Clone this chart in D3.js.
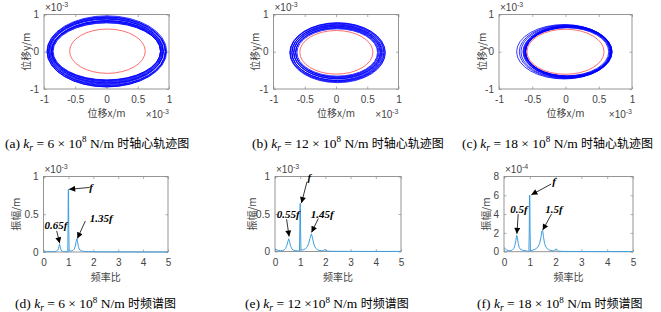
<!DOCTYPE html>
<html><head><meta charset="utf-8">
<script src="https://cdn.jsdelivr.net/npm/d3@7"></script>
<style>body{margin:0;background:#fff}svg{display:block}</style>
</head><body><svg id="c" width="661" height="312"></svg>
<script>
// ---------------- DATA ----------------
// orbit ellipses: [cx, cy, rx, ry] in units of 1e-3 m
const orbitBlueA = [[0.005,0.01,0.958,0.955],[0.0,0.0,0.95,0.94],[0.0,0.005,0.945,0.93],[0.01,0.01,0.935,0.915],[0.005,0.0,0.93,0.905],[-0.01,0.005,0.92,0.885],[0.0,0.01,0.912,0.872],[0.0,0.015,0.905,0.86],[0.01,0.0,0.895,0.84],[0.0,0.005,0.89,0.83],[0.005,0.01,0.88,0.815],[0.0,0.01,0.875,0.8],[-0.005,0.015,0.87,0.79],[0.0,0.01,0.865,0.775],[0.005,0.01,0.86,0.765]];
const orbitRedA  = [[0.015,0.015,0.605,0.595]];
const orbitBlueB = [[0.025,-0.025,0.765,0.805],[0.025,-0.02,0.758,0.792],[0.02,-0.02,0.75,0.78],[0.03,-0.02,0.735,0.76],[0.02,-0.025,0.728,0.75],[0.015,-0.025,0.72,0.74],[0.025,-0.015,0.705,0.715],[0.02,-0.02,0.698,0.705],[0.02,-0.02,0.69,0.695],[0.03,-0.02,0.675,0.675],[0.02,-0.02,0.668,0.665],[0.015,-0.02,0.66,0.655],[0.02,-0.02,0.645,0.635]];
const orbitRedB  = [[0.005,-0.015,0.585,0.585]];
const orbitBlueC = [[-0.02,0.0,0.715,0.73],[-0.005,0.0,0.69,0.72],[0.01,0.0,0.68,0.71],[0.03,0.0,0.67,0.70],[0.035,0.0,0.665,0.695],[0.03,0.0,0.655,0.69],[0.04,0.0,0.65,0.685],[0.035,0.0,0.645,0.675],[0.04,0.0,0.64,0.668],[0.03,0.0,0.635,0.66],[0.035,0.0,0.632,0.652],[0.02,0.0,0.63,0.645]];
const orbitRedC  = [[0.0,0.0,0.58,0.605]];

// spectra: [frequency ratio, amplitude]
const specD = [[0,0.012],[0.03,0.006],[0.08,0.01],[0.12,0.004],[0.18,0.008],[0.25,0.005],[0.32,0.007],[0.4,0.004],[0.47,0.008],[0.52,0.012],[0.57,0.025],[0.6,0.045],[0.62,0.075],[0.645,0.105],[0.67,0.07],[0.7,0.03],[0.74,0.012],[0.8,0.006],[0.88,0.004],[0.95,0.003],[0.975,0.002],[0.985,0.3],[0.995,0.83],[1.005,0.83],[1.015,0.3],[1.03,0.015],[1.1,0.012],[1.18,0.02],[1.24,0.04],[1.28,0.08],[1.31,0.14],[1.34,0.175],[1.37,0.13],[1.4,0.07],[1.45,0.03],[1.52,0.015],[1.6,0.01],[1.7,0.006],[1.8,0.004],[1.95,0.006],[2.05,0.003],[2.4,0.002],[3,0.002],[4,0.001],[5,0.001]];
const specE = [[0,0.035],[0.03,0.03],[0.08,0.02],[0.15,0.012],[0.22,0.01],[0.3,0.012],[0.36,0.02],[0.42,0.04],[0.47,0.08],[0.51,0.13],[0.545,0.17],[0.58,0.13],[0.62,0.07],[0.67,0.035],[0.72,0.02],[0.8,0.012],[0.88,0.008],[0.94,0.005],[0.97,0.001],[0.985,0.3],[0.995,0.64],[1.005,0.64],[1.015,0.3],[1.03,0.02],[1.1,0.02],[1.2,0.035],[1.28,0.06],[1.34,0.11],[1.4,0.19],[1.445,0.235],[1.49,0.18],[1.54,0.1],[1.6,0.05],[1.68,0.025],[1.78,0.012],[1.88,0.01],[1.95,0.02],[1.98,0.025],[2.02,0.018],[2.08,0.006],[2.2,0.003],[2.6,0.002],[3.5,0.001],[5,0.001]];
const specF = [[0,0.45],[0.03,0.38],[0.07,0.25],[0.12,0.15],[0.2,0.1],[0.27,0.12],[0.33,0.2],[0.38,0.35],[0.42,0.65],[0.46,1.2],[0.49,1.75],[0.52,1.5],[0.55,0.9],[0.59,0.45],[0.64,0.25],[0.72,0.15],[0.82,0.1],[0.92,0.06],[0.965,0.02],[0.98,2.5],[0.99,6.0],[1.0,6.0],[1.01,2.5],[1.025,0.1],[1.1,0.15],[1.2,0.25],[1.3,0.45],[1.38,0.85],[1.43,1.5],[1.47,2.2],[1.5,2.25],[1.53,1.6],[1.57,0.9],[1.63,0.45],[1.72,0.22],[1.82,0.12],[1.92,0.1],[1.98,0.2],[2.02,0.3],[2.06,0.2],[2.12,0.06],[2.3,0.03],[2.8,0.02],[3.5,0.015],[5,0.01]];

// annotations: [label, textX, textY, fromX, fromY, toX, toY] (data units)
const annD = [["f",1.91,0.86,1.85,0.855,1.03,0.83],["0.65f",0.5,0.36,0.53,0.28,0.65,0.115],["1.35f",2.32,0.45,1.68,0.41,1.36,0.18]];
const annE = [["f",1.36,0.99,1.27,0.93,1.05,0.645],["0.55f",0.52,0.5,0.46,0.43,0.56,0.2],["1.45f",1.87,0.5,1.72,0.44,1.45,0.255]];
const annF = [["f",1.94,7.5,1.83,7.2,1.06,6.05],["0.5f",0.58,4.5,0.55,4.0,0.5,1.9],["1.5f",1.94,4.5,1.84,4.0,1.5,2.3]];

// tick labels
const orbitTicksX = [-1,-0.5,0,0.5,1];
const orbitTicksY = [-1,0,1];
const specTicksX = [0,1,2,3,4,5];
const specTicksY13 = [0,0.5,1];
const specTicksY4 = [0,2,4,6,8];

// captions: [label, value text, caption cn]
const captions = [
  ["(a) ","6 × 10","时轴心轨迹图"],
  ["(b) ","12 × 10","时轴心轨迹图"],
  ["(c) ","18 × 10","时轴心轨迹图"],
  ["(d) ","6 × 10","时频谱图"],
  ["(e) ","12 ×10","时频谱图"],
  ["(f) ","18 × 10","时频谱图"]
];

// ---------------- DRAW ----------------
const svg = d3.select("#c");
svg.append("rect").attr("width",661).attr("height",312).attr("fill","#fff");
svg.append("defs").append("marker").attr("id","ah").attr("viewBox","0 0 10 10")
  .attr("refX",10).attr("refY",5).attr("markerWidth",7).attr("markerHeight",6)
  .attr("markerUnits","userSpaceOnUse").attr("orient","auto")
  .append("path").attr("d","M0,0L10,5L0,10z").attr("fill","#000");

const SANS = "Liberation Sans, Arial, sans-serif";
const SERIF = "Liberation Serif, Times New Roman, DejaVu Serif, serif";
const CJK = "Noto Sans CJK SC, sans-serif";
const TXT = "#444";

function expLabel(g, x, y, anchor, exp){
  const t = g.append("text").attr("x",x).attr("y",y).attr("text-anchor",anchor)
    .style("font-family",SANS).attr("font-size",10).attr("fill",TXT);
  t.append("tspan").text("×10");
  t.append("tspan").attr("dy",-4).attr("font-size",7).text(exp);
}

function axesBox(p){
  const x = d3.scaleLinear().domain(p.xd).range([p.l,p.r]);
  const y = d3.scaleLinear().domain(p.yd).range([p.b,p.t]);
  const g = svg.append("g");
  const fmt = d => d3.format("")(d).replace("−","-");
  g.append("g").attr("transform",`translate(0,${p.b})`)
    .call(d3.axisBottom(x).tickValues(p.xt).tickSize(-2.5).tickPadding(p.xpad).tickFormat(fmt));
  g.append("g").attr("transform",`translate(${p.l},0)`)
    .call(d3.axisLeft(y).tickValues(p.yt).tickSize(-2.5).tickPadding(5).tickFormat(fmt));
  g.append("g").attr("transform",`translate(0,${p.t})`)
    .call(d3.axisTop(x).tickValues(p.xt).tickSize(-2.5).tickFormat(""));
  g.append("g").attr("transform",`translate(${p.r},0)`)
    .call(d3.axisRight(y).tickValues(p.yt).tickSize(-2.5).tickFormat(""));
  g.selectAll(".domain").remove();
  g.selectAll(".tick line").attr("stroke","#777").attr("stroke-width",0.6);
  g.selectAll(".tick text").style("font-family",SANS).attr("font-size",10).attr("fill",TXT);
  g.append("rect").attr("x",p.l).attr("y",p.t).attr("width",p.r-p.l).attr("height",p.b-p.t)
    .attr("fill","none").attr("stroke","#8a8a8a").attr("stroke-width",0.9);
  g.append("text").attr("x",(p.l+p.r)/2).attr("y",p.xly).attr("text-anchor","middle")
    .style("font-family",CJK).attr("font-size",10).attr("fill",TXT).text(p.xl);
  g.append("text").attr("transform",`translate(${p.l-p.ylo},${(p.t+p.b)/2}) rotate(-90)`)
    .attr("text-anchor","middle").attr("dominant-baseline","central")
    .style("font-family",CJK).attr("font-size",10).attr("fill",TXT).text(p.yl);
  expLabel(g, p.l+1, p.t-3.5, "start", p.yexp);
  if (p.xexp) expLabel(g, p.r, p.b+29, "end", p.xexp);
  return {x,y,g};
}

function orbitPanel(p, blue, red){
  const {x,y,g} = axesBox(Object.assign({xd:[-1,1],yd:[-1,1],xt:orbitTicksX,yt:orbitTicksY,
    xpad:7,xl:"位移x/m",yl:"位移y/m",xly:117,ylo:19,yexp:"-3",xexp:"-3"},p));
  g.selectAll("ellipse.b").data(blue).join("ellipse").attr("class","b")
    .attr("cx",d=>x(d[0])).attr("cy",d=>y(d[1]))
    .attr("rx",d=>x(d[2])-x(0)).attr("ry",d=>y(0)-y(d[3]))
    .attr("fill","none").attr("stroke","#0000ff").attr("stroke-width",0.8);
  g.selectAll("ellipse.r").data(red).join("ellipse").attr("class","r")
    .attr("cx",d=>x(d[0])).attr("cy",d=>y(d[1]))
    .attr("rx",d=>x(d[2])-x(0)).attr("ry",d=>y(0)-y(d[3]))
    .attr("fill","none").attr("stroke","#ff3030").attr("stroke-width",0.7);
}

function specPanel(p, data, ann){
  const {x,y,g} = axesBox(Object.assign({xd:[0,5],xt:specTicksX,xpad:7,
    xl:"频率比",yl:"振幅/m",xly:281},p));
  g.append("path").datum(data)
    .attr("d",d3.line().x(d=>x(d[0])).y(d=>y(d[1])))
    .attr("fill","none").attr("stroke","#3f9fe0").attr("stroke-width",1);
  ann.forEach(a=>{
    g.append("line").attr("x1",x(a[3])).attr("y1",y(a[4])).attr("x2",x(a[5])).attr("y2",y(a[6]))
      .attr("stroke","#000").attr("stroke-width",0.8).attr("marker-end","url(#ah)");
    g.append("text").attr("x",x(a[1])).attr("y",y(a[2])).attr("text-anchor","middle")
      .attr("dominant-baseline","central")
      .style("font-family",SERIF)
      .attr("font-style","italic").attr("font-weight","bold").attr("font-size",11)
      .attr("fill","#000").text(a[0]);
  });
}

orbitPanel({l:44,r:169,t:14.5,b:89}, orbitBlueA, orbitRedA);
orbitPanel({l:273.5,r:398.5,t:14.5,b:89}, orbitBlueB, orbitRedB);
orbitPanel({l:499,r:632,t:14.5,b:89,ylo:18}, orbitBlueC, orbitRedC);

specPanel({l:43.5,r:168,t:176.5,b:252,yd:[0,1],yt:specTicksY13,ylo:28,yexp:"-3"}, specD, annD);
specPanel({l:275,r:401,t:176.5,b:251.5,yd:[0,1],yt:specTicksY13,ylo:24,yexp:"-3"}, specE, annE);
specPanel({l:504,r:633,t:176.5,b:251.7,yd:[0,8],yt:specTicksY4,ylo:19,yexp:"-4"}, specF, annF);

// captions
const capPos = [[5,147.5],[252,147.5],[462,147.5],[15,308],[245,308],[477,308]];
captions.forEach((c,i)=>{
  const t = svg.append("text").attr("x",capPos[i][0]).attr("y",capPos[i][1])
    .style("font-family",SERIF).attr("font-size",13.5).attr("fill","#000");
  t.append("tspan").text(c[0]);
  t.append("tspan").attr("font-style","italic").text("k");
  t.append("tspan").attr("font-style","italic").attr("font-size",9.5).attr("dy",3).text("r");
  t.append("tspan").attr("dy",-3).text(" = " + c[1]);
  t.append("tspan").attr("font-size",9).attr("dy",-5.5).text("8");
  t.append("tspan").attr("dy",5.5).text(" N/m ");
  t.append("tspan").style("font-family",CJK).attr("font-size",12).text(c[2]);
});
</script></body></html>
